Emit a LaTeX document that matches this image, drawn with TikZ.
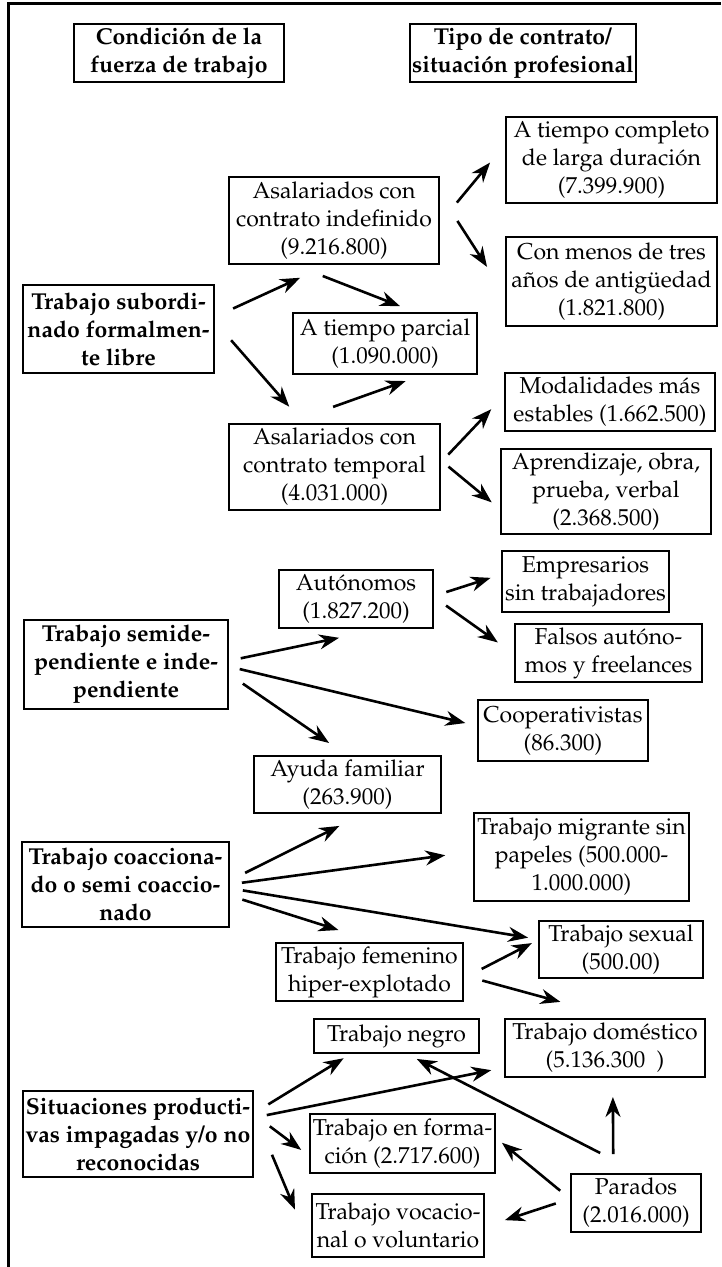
\documentclass[tikz,border=0pt]{standalone}
\usepackage[T1]{fontenc}
\usepackage{mathpazo}
\usetikzlibrary{arrows.meta}

\begin{document}
\begin{tikzpicture}[x=1pt, y=-1pt,
    box/.style={draw, line width=1.3pt, align=center, inner sep=0pt, outer sep=0pt,
        font=\fontsize{23}{28}\selectfont},
    head/.style={box, font=\fontsize{23}{28}\selectfont\bfseries},
    arr/.style={-{Stealth[length=20pt,width=15pt]}, line width=2.6pt}]
            \useasboundingbox (0,0) rectangle (721,1267);
            \draw[line width=3pt] (8,1267) -- (8,3) -- (721,3);

            \node[head, minimum width=210, minimum height=58] (hdrA) at (179,53) {Condición de la\\fuerza de trabajo};
            \node[head, minimum width=226, minimum height=58] (hdrB) at (523,53) {Tipo de contrato/\\situación profesional};

            \node[box, minimum width=211, minimum height=86] (completo) at (611.5,160) {A tiempo completo\\de larga duración\\(7.399.900)};
            \node[box, minimum width=210, minimum height=87] (indef) at (334,220.5) {Asalariados con\\contrato indefinido\\(9.216.800)};
            \node[box, minimum width=211, minimum height=89] (menos) at (611.5,281.5) {Con menos de tres\\años de antigüedad\\(1.821.800)};
            \node[head, minimum width=191, minimum height=88] (subord) at (118.5,329) {Trabajo subordi-\\nado formalmen-\\te libre};
            \node[box, minimum width=184, minimum height=61] (parcial) at (385,343.5) {A tiempo parcial\\(1.090.000)};
            \node[box, minimum width=210, minimum height=58] (modal) at (610,402) {Modalidades más\\estables (1.662.500)};
            \node[box, minimum width=211, minimum height=86] (temporal) at (334.5,467) {Asalariados con\\contrato temporal\\(4.031.000)};
            \node[box, minimum width=210, minimum height=85] (aprend) at (606,491.5) {Aprendizaje, obra,\\prueba, verbal\\(2.368.500)};

            \node[box, minimum width=167, minimum height=61] (empres) at (585.5,581.5) {Empresarios\\sin trabajadores};
            \node[box, minimum width=154, minimum height=58] (auton) at (356,599) {Autónomos\\(1.827.200)};
            \node[box, minimum width=187, minimum height=58] (falsos) at (608.5,653) {Falsos autóno-\\mos y freelances};
            \node[head, minimum width=204, minimum height=89] (semi) at (126,664.5) {Trabajo semide-\\pendiente e inde-\\pendiente};
            \node[box, minimum width=170, minimum height=61] (coop) at (563,730.5) {Cooperativistas\\(86.300)};
            \node[box, minimum width=187, minimum height=57] (ayuda) at (347.5,784.5) {Ayuda familiar\\(263.900)};

            \node[box, minimum width=215, minimum height=88] (migr) at (581.5,857) {Trabajo migrante sin\\papeles (500.000-\\1.000.000)};
            \node[head, minimum width=207, minimum height=85] (coac) at (125.5,884.5) {Trabajo coacciona-\\do o semi coaccio-\\nado};
            \node[box, minimum width=164, minimum height=57] (sexual) at (621,949.5) {Trabajo sexual\\(500.00)};
            \node[box, minimum width=187, minimum height=58] (femen) at (369.5,972) {Trabajo femenino\\hiper-explotado};

            \node[box, minimum width=165, minimum height=34] (negro) at (396.5,1036) {Trabajo negro};
            \node[box, minimum width=200, minimum height=58] (domest) at (605,1048) {Trabajo doméstico\\(5.136.300~~)};
            \node[head, minimum width=230, minimum height=86] (situac) at (138,1134) {Situaciones producti-\\vas impagadas y/o no\\reconocidas};
            \node[box, minimum width=185, minimum height=59] (formac) at (402.5,1143.5) {Trabajo en forma-\\ción (2.717.600)};
            \node[box, minimum width=130, minimum height=58] (parados) at (636,1203) {Parados\\(2.016.000)};
            \node[box, minimum width=172, minimum height=63] (vocac) at (398,1225.5) {Trabajo vocacio-\\nal o voluntario};

            \draw[arr, shorten <=21, shorten >=33] (subord.7) -- (indef.265);
            \draw[arr, shorten <=33, shorten >=19] (indef.226) -- (parcial.43);
            \draw[arr, shorten <=26, shorten >=23] (subord.5) -- (temporal.125);
            \draw[arr, shorten <=51, shorten >=21] (temporal.139) -- (parcial.323);
            \draw[arr, shorten <=28, shorten >=25] (indef.-2) -- (completo.171);
            \draw[arr, shorten <=34, shorten >=35] (indef.15) -- (menos.188);
            \draw[arr, shorten <=12, shorten >=20] (temporal.2) -- (modal.176);
            \draw[arr, shorten <=11, shorten >=12] (temporal.4) -- (aprend.190);

            \draw[arr, shorten <=14, shorten >=12] (auton.2) -- (empres.175);
            \draw[arr, shorten <=16, shorten >=21] (auton.2) -- (falsos.181);
            \draw[arr, shorten <=13, shorten >=48] (semi.2) -- (auton.316);
            \draw[arr, shorten <=12, shorten >=13] (semi.-1) -- (coop.177);
            \draw[arr, shorten <=18, shorten >=23] (semi.-5) -- (ayuda.89);

            \draw[arr, shorten <=18, shorten >=29] (coac.2) -- (ayuda.302);
            \draw[arr, shorten <=13, shorten >=29] (coac.0) -- (migr.177);
            \draw[arr, shorten <=14, shorten >=11] (coac.-2) -- (sexual.173);
            \draw[arr, shorten <=14, shorten >=43] (coac.-6) -- (femen.71);
            \draw[arr, shorten <=21, shorten >=8] (femen.-4) -- (sexual.173);
            \draw[arr, shorten <=20, shorten >=65] (femen.-2) -- (domest.58);

            \draw[arr, shorten <=18, shorten >=10] (situac.10) -- (negro.201);
            \draw[arr, shorten <=14, shorten >=14] (situac.8) -- (domest.191);
            \draw[arr, shorten <=21, shorten >=11] (situac.10) -- (formac.188);
            \draw[arr, shorten <=49, shorten >=44] (situac.12) -- (vocac.196);
            \draw[arr, shorten <=46, shorten >=13] (parados.80) -- (negro.297);
            \draw[arr, shorten <=20, shorten >=20] (parados.128) -- (domest.285);
            \draw[arr, shorten <=14, shorten >=9] (parados.177) -- (formac.4);
            \draw[arr, shorten <=16, shorten >=22] (parados.176) -- (vocac.-1);
        \end{tikzpicture}
\end{document}
